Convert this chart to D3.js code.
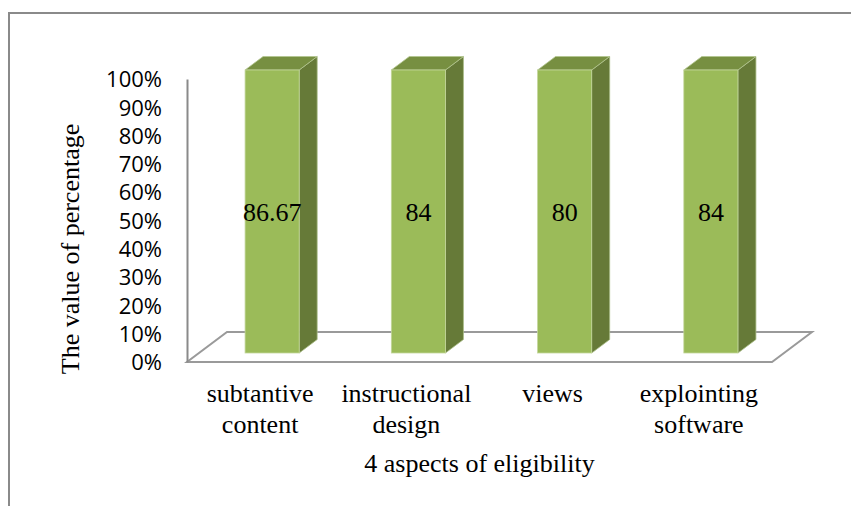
<!DOCTYPE html>
<html><head><meta charset="utf-8">
<script src="https://cdn.jsdelivr.net/npm/d3@7"></script>
<style>body{margin:0;background:#fff}svg{display:block}</style>
</head><body>
<script>
const categories = [["subtantive","content"],["instructional","design"],["views"],["explointing","software"]];
const values = [86.67, 84, 80, 84];
const yTicks = [0,10,20,30,40,50,60,70,80,90,100];
const yTitle = "The value of percentage";
const xTitle = "4 aspects of eligibility";

const W = 851, H = 506;
const serif = "'Liberation Serif', 'Times New Roman', serif";
const svg = d3.select("body").append("svg").attr("width", W).attr("height", H);

// chart border
svg.append("rect").attr("x", 9).attr("y", 13).attr("width", 860).attr("height", 520)
  .attr("fill", "none").attr("stroke", "#8a8a8a").attr("stroke-width", 2);

const x0 = 187, x1 = 772, yBase = 362, yTop = 79;
const depthX = 40, depthY = -30;
const x = d3.scaleBand().domain(d3.range(categories.length)).range([x0, x1])
  .paddingInner(0.63).paddingOuter(0.315);
const y = d3.scaleLinear().domain([0, 100]).range([yBase, yTop]);

// floor
const floor = [[x0, yBase],[x1, yBase],[x1+depthX, yBase+depthY],[x0+depthX, yBase+depthY]];
svg.append("path").attr("d", d3.line()(floor) + "Z")
  .attr("fill", "none").attr("stroke", "#9a9a9a").attr("stroke-width", 2);

// y axis
const yAxis = d3.axisLeft(y).tickValues(yTicks).tickSize(0).tickPadding(25).tickFormat(d => d + "%");
const ga = svg.append("g").attr("transform", `translate(${x0},0)`).call(yAxis);
ga.select(".domain").attr("stroke", "#8a8a8a").attr("stroke-width", 2);
ga.selectAll("text").attr("font-family", "'Open Sans', Lato, sans-serif").attr("font-size", 22).attr("fill", "#000").attr("dy", "0.35em");

// bars (100% stacked, single series)
const stackData = values.map((v, i) => ({i, v}));
const series = d3.stack().keys(["v"]).offset(d3.stackOffsetExpand)(stackData)[0];
const f1 = 0.3, f2 = 0.75;
const fx = depthX * f1, fy = depthY * f1;
const bdx = depthX * (f2 - f1), bdy = depthY * (f2 - f1);
const g = svg.append("g");
series.forEach((s, i) => {
  const xl = x(i) + fx, xr = x(i) + x.bandwidth() + fx;
  const yb = y(s[0] * 100) + fy, yt = y(s[1] * 100) + fy;
  g.append("path").attr("d", d3.line()([[xr, yb],[xr + bdx, yb + bdy],[xr + bdx, yt + bdy],[xr, yt]]) + "Z")
    .attr("fill", "#667a38").attr("stroke", "#a9bd86").attr("stroke-width", 0.8);
  g.append("path").attr("d", d3.line()([[xl, yt],[xr, yt],[xr + bdx, yt + bdy],[xl + bdx, yt + bdy]]) + "Z")
    .attr("fill", "#778f41").attr("stroke", "#b2c58f").attr("stroke-width", 0.8);
  g.append("rect").attr("x", xl).attr("y", yt).attr("width", xr - xl).attr("height", yb - yt)
    .attr("fill", "#9bbb59").attr("stroke", "#c3d69b").attr("stroke-width", 0.8);
  g.append("text").attr("x", (xl + xr) / 2).attr("y", y((s[0] + s[1]) / 2 * 100) + fy)
    .attr("dy", "0.35em").attr("text-anchor", "middle")
    .style("font-family", serif).attr("font-size", 26)
    .attr("fill", "#000").text(values[i]);
});

// category labels
categories.forEach((lines, i) => {
  const t = svg.append("text").attr("text-anchor", "middle")
    .style("font-family", serif).attr("font-size", 26).attr("fill", "#000");
  lines.forEach((ln, j) => {
    t.append("tspan").attr("x", x(i) + x.bandwidth() / 2).attr("y", 402 + j * 31).text(ln);
  });
});

// axis titles
svg.append("text").attr("x", (x0 + x1) / 2).attr("y", 472).attr("text-anchor", "middle")
  .style("font-family", serif).attr("font-size", 26).attr("fill", "#000").text(xTitle);
svg.append("text").attr("transform", "translate(79,249) rotate(-90)").attr("text-anchor", "middle")
  .style("font-family", serif).attr("font-size", 26).attr("fill", "#000").text(yTitle);
</script>
</body></html>
